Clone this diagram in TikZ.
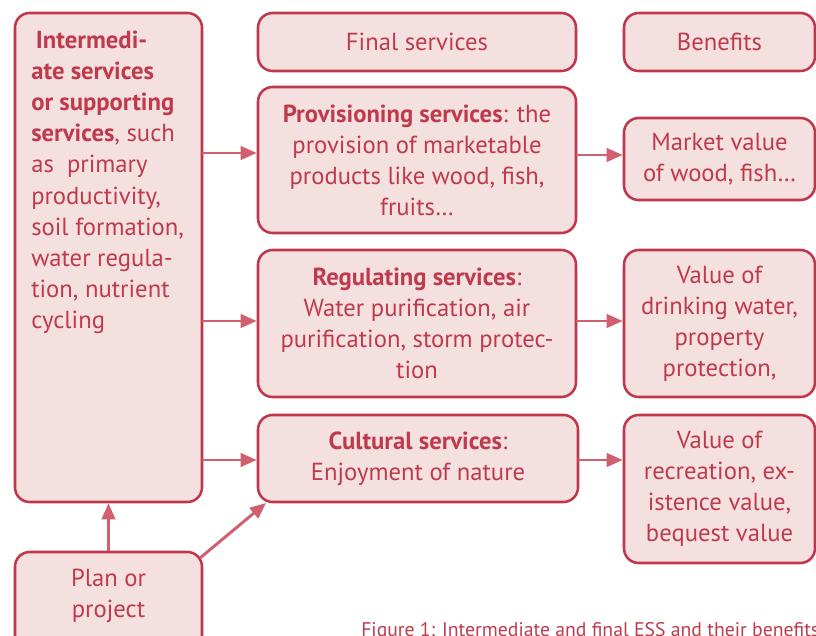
\documentclass[tikz,border=0pt]{standalone}
\usepackage{fontspec}
\setmainfont{PT Sans}
\usetikzlibrary{arrows.meta}
\definecolor{bord}{HTML}{C0364A}
\definecolor{fillc}{HTML}{F4E1DF}
\definecolor{arrc}{HTML}{D0606E}
\definecolor{txt}{HTML}{BE3A4C}
\newcommand{\fs}{\fontsize{18.5pt}{23.25pt}\selectfont}
\begin{document}
\begin{tikzpicture}[x=0.75pt,y=-0.75pt,
  box/.style={draw=bord, line width=1.9pt, fill=fillc, rounded corners=11pt,
    inner sep=0pt, text=txt, align=center, font=\fs},
  lbl/.style={inner sep=0pt, text=txt, align=center, font=\fs},
  arr/.style={draw=arrc, line width=2.2pt, -{Triangle[length=12pt,width=10pt]}}]
\clip (0,0) rectangle (816,635);
% boxes
\node[box, minimum width=140.25pt, minimum height=366.75pt] (inter) at (108.5,257.5) {};
\node[box, minimum width=238.5pt, minimum height=43.5pt] (final) at (417,42) {Final services};
\node[box, minimum width=143.25pt, minimum height=43.5pt] (benef) at (719.5,42) {Benefits};
\node[box, minimum width=238.5pt, minimum height=109.5pt] (prov) at (417,160)
  {\textbf{Provisioning services}: the\\provision of marketable\\products like wood, fish,\\fruits…};
\node[box, minimum width=143.25pt, minimum height=61.5pt] (market) at (719.5,159)
  {Market value\\of wood, fish…};
\node[box, minimum width=238.5pt, minimum height=110.25pt] (reg) at (417,323.5)
  {\textbf{Regulating services}:\\Water purification, air\\purification, storm protec-\\tion};
\node[box, minimum width=143.25pt, minimum height=110.25pt] (valreg) at (719.5,323.5)
  {Value of\\drinking water,\\property\\protection,};
\node[box, minimum width=240pt, minimum height=65.25pt] (cult) at (418,458.5)
  {\textbf{Cultural services}:\\Enjoyment of nature};
\node[box, minimum width=143.25pt, minimum height=111pt] (valcult) at (719.5,489)
  {Value of\\recreation, ex-\\istence value,\\bequest value};
\node[box, minimum width=140.25pt, minimum height=75pt] (plan) at (108.5,602) {};
% texts
\node[lbl, anchor=base west, align=left] (intertext) at (31,49)
  {\begin{tabular}[t]{@{}l@{}}
   \hspace{3.5pt}\textbf{Intermedi-}\\
   \textbf{ate services}\\
   \textbf{or supporting}\\
   \textbf{services}, such\\
   as\ \ primary\\
   productivity,\\
   soil formation,\\
   water regula-\\
   tion, nutrient\\
   cycling
   \end{tabular}};
\node[lbl] (plantext) at (108.5,595.5) {Plan or\\project};
\node[anchor=base west, inner sep=0pt, text=txt, font=\fontsize{14.8pt}{17pt}\selectfont] (cap) at (361,636)
  {Figure 1: Intermediate and final ESS and their benefits};
% connector points
\coordinate (a1) at (202,153);
\coordinate (a2) at (202,321);
\coordinate (a3) at (202,460);
\coordinate (b1) at (576,155);
\coordinate (b2) at (576,321);
\coordinate (b3) at (578,460);
\coordinate (ps) at (200,558);
\coordinate (pe) at (266,503);
\draw[arr] (a1) -- (prov.west |- a1);
\draw[arr] (a2) -- (reg.west |- a2);
\draw[arr] (a3) -- (cult.west |- a3);
\draw[arr] (b1) -- (market.west |- b1);
\draw[arr] (b2) -- (valreg.west |- b2);
\draw[arr] (b3) -- (valcult.west |- b3);
\draw[arr] (plan.north) -- (inter.south);
\draw[arr] (ps) -- (pe);
\end{tikzpicture}
\end{document}
